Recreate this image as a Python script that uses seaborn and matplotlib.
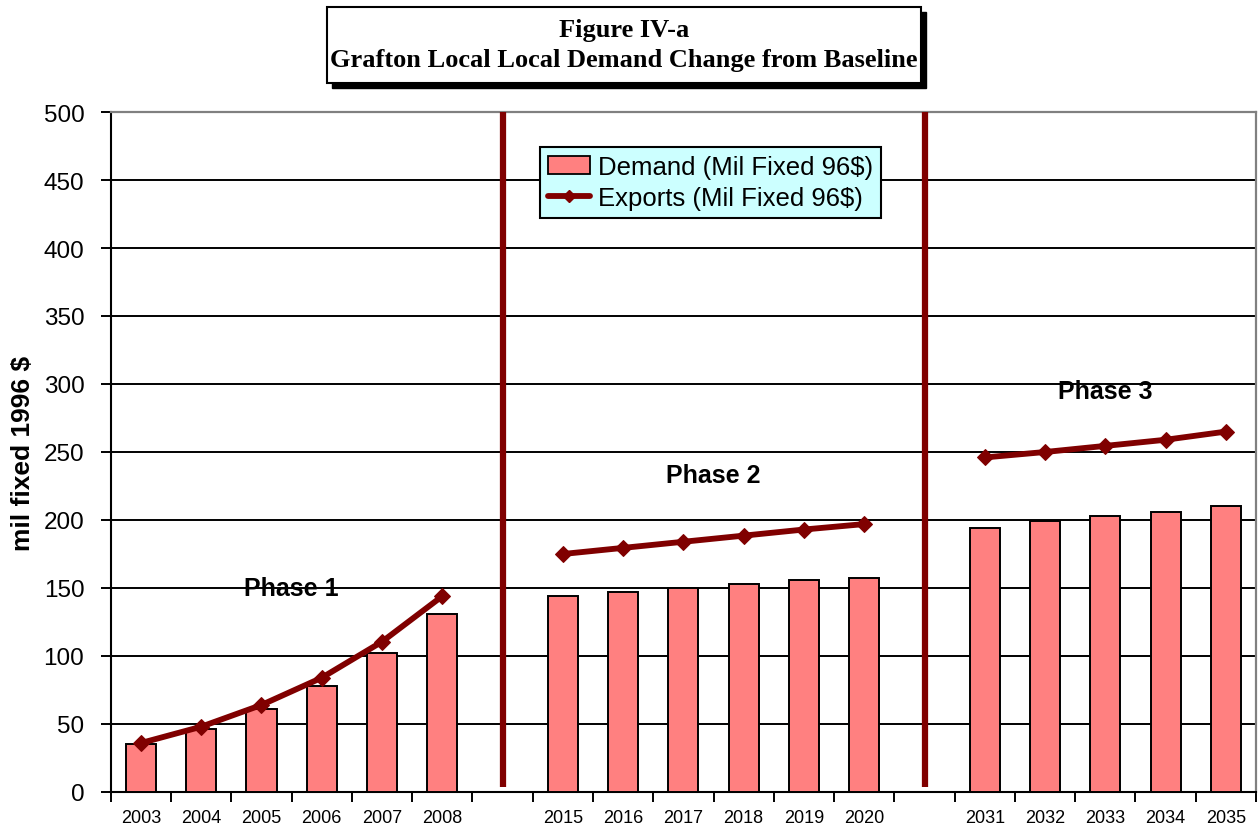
import numpy as np
import pandas as pd
import matplotlib
matplotlib.use("Agg")
import matplotlib.pyplot as plt
from matplotlib.patches import Rectangle, Patch
from matplotlib.lines import Line2D
import seaborn as sns

# ---------------- data ----------------
years_p1 = ["2003", "2004", "2005", "2006", "2007", "2008"]
years_p2 = ["2015", "2016", "2017", "2018", "2019", "2020"]
years_p3 = ["2031", "2032", "2033", "2034", "2035"]

demand_p1 = [35, 46, 61, 78, 102, 131]
demand_p2 = [144, 147, 150, 153, 156, 157]
demand_p3 = [194, 199, 203, 206, 210.5]

exports_p1 = [36, 48, 64, 84, 110.5, 144]
exports_p2 = [175, 179.5, 184, 188.5, 193, 197]
exports_p3 = [246, 250, 254.5, 259, 265]

phase_labels = ["Phase 1", "Phase 2", "Phase 3"]
phase_label_y = [150, 233, 295]

gap_keys = ["gap1", "gap2"]
title_lines = ["Figure IV-a", "Grafton Local Local Demand Change from Baseline"]
y_label = "mil fixed 1996 $"
demand_name = "Demand (Mil Fixed 96$)"
exports_name = "Exports (Mil Fixed 96$)"
y_ticks = [0, 50, 100, 150, 200, 250, 300, 350, 400, 450, 500]

BAR_COLOR = "#FF8080"
LINE_COLOR = "#800000"

# ---------------- build table ----------------
order = years_p1 + [gap_keys[0]] + years_p2 + [gap_keys[1]] + years_p3
df = pd.DataFrame({
    "slot": years_p1 + years_p2 + years_p3,
    "demand": demand_p1 + demand_p2 + demand_p3,
})

sns.set_theme(style="white")
plt.rcParams["font.family"] = ["Liberation Sans", "DejaVu Sans"]
plt.rcParams["text.color"] = "black"
plt.rcParams["axes.labelcolor"] = "black"
plt.rcParams["xtick.color"] = "black"
plt.rcParams["ytick.color"] = "black"

fig = plt.figure(figsize=(12.6, 8.29), dpi=100)
ax = fig.add_axes([0.0879, 0.04343, 0.90897, 0.82026])
ax.set_axisbelow(True)

sns.barplot(data=df, x="slot", y="demand", order=order, color=BAR_COLOR,
            saturation=1, edgecolor="black", linewidth=1.4, width=0.5,
            errorbar=None, ax=ax, zorder=3)

for yrs, vals in [(years_p1, exports_p1), (years_p2, exports_p2), (years_p3, exports_p3)]:
    pos = [order.index(y) for y in yrs]
    sns.lineplot(x=pos, y=vals, color=LINE_COLOR, linewidth=4.2, marker="D",
                 markersize=8.5, markeredgecolor=LINE_COLOR, markerfacecolor=LINE_COLOR,
                 ax=ax, zorder=4)

# phase dividers at gap slots
gap_pos = [order.index(g) for g in gap_keys]
ax.vlines(gap_pos, 3.5, 500, color=LINE_COLOR, linewidth=4.5, zorder=4)

# phase labels (centered over each phase group)
for lbl, yrs, yv in zip(phase_labels, [years_p1, years_p2, years_p3], phase_label_y):
    pos = [order.index(y) for y in yrs]
    xc = np.mean(pos)
    ax.text(xc, yv, lbl, ha="center", va="center", fontsize=18,
            fontweight="bold", color="black", zorder=5)

# axes limits & ticks
ax.set_xlim(-0.5, len(order) - 0.5)
ax.set_ylim(0, 500)
ax.set_yticks(y_ticks)
ax.set_yticklabels([str(t) for t in y_ticks], fontsize=17.5)
ax.set_xticks(range(len(order)))
ax.set_xticklabels(["" if s in gap_keys else s for s in order], fontsize=13)
ax.set_xticks(np.arange(-0.5, len(order)), minor=True)
ax.tick_params(axis="x", which="major", length=0, pad=12, colors="black")
ax.tick_params(axis="x", which="minor", length=7, width=1.4, direction="out",
               color="black", bottom=True)
ax.tick_params(axis="y", which="major", length=7, width=1.4, direction="out",
               left=True, color="black", pad=12, labelcolor="black")
ax.set_xlabel("")
ax.set_ylabel(y_label, fontsize=19, fontweight="bold", labelpad=6, color="black")

ax.yaxis.grid(True, color="black", linewidth=1.4)
ax.xaxis.grid(False)

for side in ["left", "bottom"]:
    ax.spines[side].set_color("black")
    ax.spines[side].set_linewidth(1.5)
for side in ["top", "right"]:
    ax.spines[side].set_color("#808080")
    ax.spines[side].set_linewidth(1.6)
    ax.spines[side].set_visible(True)

# legend
handles = [
    Patch(facecolor=BAR_COLOR, edgecolor="black", linewidth=1.3, label=demand_name),
    Line2D([0], [0], color=LINE_COLOR, linewidth=4.2, marker="D", markersize=6,
           markerfacecolor=LINE_COLOR, markeredgecolor=LINE_COLOR, label=exports_name),
]
leg = ax.legend(handles=handles, loc="upper left",
                bbox_to_anchor=(540 / 1260, 1 - 148 / 829),
                bbox_transform=fig.transFigure, fontsize=18.5, frameon=True,
                fancybox=False, facecolor="#CCFFFF", edgecolor="black",
                framealpha=1, borderpad=0.3, labelspacing=0.3,
                handlelength=1.65, handletextpad=0.3, borderaxespad=0)
leg.get_frame().set_linewidth(1.5)
leg.set_zorder(6)

# title box with shadow
bx, by, bw, bh = 327 / 1260, 1 - 84 / 829, 594 / 1260, 76 / 829
sh = Rectangle((bx + 5 / 1260, by - 5 / 829), bw, bh, transform=fig.transFigure,
               facecolor="black", edgecolor="black", zorder=1)
box = Rectangle((bx, by), bw, bh, transform=fig.transFigure,
                facecolor="white", edgecolor="black", linewidth=1.5, zorder=2)
fig.patches.extend([sh, box])
fig.text(bx + bw / 2, 1 - 31 / 829, title_lines[0], ha="center", va="center",
         fontsize=19, fontweight="bold", color="black",
         family=["Liberation Serif", "DejaVu Serif"])
fig.text(bx + bw / 2, 1 - 61 / 829, title_lines[1], ha="center", va="center",
         fontsize=19, fontweight="bold", color="black",
         family=["Liberation Serif", "DejaVu Serif"])

fig.savefig("out.png", dpi=100)
